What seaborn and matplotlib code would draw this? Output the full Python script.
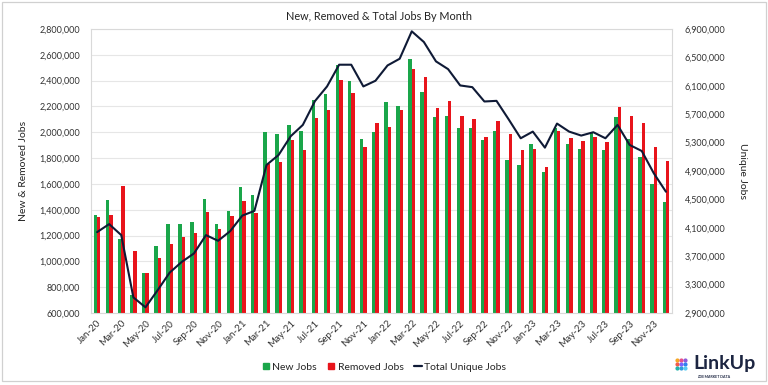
import numpy as np
import pandas as pd
import matplotlib
matplotlib.use("Agg")
import matplotlib.pyplot as plt
from matplotlib.lines import Line2D
from matplotlib.patches import Rectangle
from matplotlib.ticker import FuncFormatter
import seaborn as sns

months = [f"{m}-{y}" for y in ["20", "21", "22", "23"]
          for m in ["Jan", "Feb", "Mar", "Apr", "May", "Jun",
                    "Jul", "Aug", "Sep", "Oct", "Nov", "Dec"]]

new_jobs = [1358, 1474, 1172, 737, 913, 1117, 1288, 1293, 1304, 1480, 1286, 1389,
            1578, 1513, 2005, 1989, 2056, 2010, 2250, 2294, 2522, 2398, 1948, 2005,
            2232, 2204, 2569, 2310, 2121, 2129, 2036, 2036, 1937, 2010, 1785, 1746,
            1906, 1694, 2031, 1906, 1868, 2005, 1860, 2116, 1945, 1808, 1601, 1456]
removed_jobs = [1340, 1358, 1583, 1081, 913, 1024, 1133, 1185, 1218, 1381, 1249, 1355,
                1467, 1371, 1751, 1772, 1940, 1860, 2108, 2173, 2406, 2307, 1883, 2069,
                2041, 2170, 2491, 2432, 2188, 2242, 2129, 2103, 1966, 2088, 1989, 1865,
                1870, 1733, 2010, 1958, 1932, 1963, 1927, 2199, 2126, 2069, 1886, 1777]
total_jobs = [4039, 4152, 3997, 3120, 2980, 3220, 3469, 3620, 3738, 3997, 3917, 4053,
              4272, 4338, 4985, 5126, 5390, 5549, 5884, 6091, 6397, 6397, 6091, 6171,
              6387, 6481, 6867, 6717, 6444, 6335, 6105, 6081, 5879, 5888, 5629, 5361,
              5455, 5229, 5568, 5455, 5399, 5446, 5361, 5549, 5267, 5182, 4867, 4608]

series_names = ["New Jobs", "Removed Jobs"]
line_name = "Total Unique Jobs"
title = "New, Removed & Total Jobs By Month"

GREEN = "#1aa64a"
RED = "#e8141b"
NAVY = "#0f1a36"

sns.set_theme(style="white")
plt.rcParams["font.family"] = ["Lato", "DejaVu Sans"]

df = pd.DataFrame({
    "Month": months * 2,
    "Jobs": [v * 1000 for v in new_jobs] + [v * 1000 for v in removed_jobs],
    "Series": [series_names[0]] * len(months) + [series_names[1]] * len(months),
})

fig = plt.figure(figsize=(7.68, 3.85), dpi=100)
ax = fig.add_axes([91 / 768, 1 - 313 / 385, (672 - 91) / 768, (313 - 29) / 385])

sns.barplot(data=df, x="Month", y="Jobs", hue="Series", order=months,
            hue_order=series_names, palette=[GREEN, RED], width=0.56,
            saturation=1, ax=ax, legend=False, linewidth=0)
ax.set_xlim(-0.5, len(months) - 0.5)
ax.set_ylim(600000, 2800000)
ax.set_yticks(np.arange(600000, 2800001, 200000))
ax.yaxis.set_major_formatter(FuncFormatter(lambda v, p: f"{int(v):,}"))
ax.grid(axis="y", color="#e6e6e6", linewidth=0.8)
ax.set_axisbelow(True)
ax.set_xlabel("")
ax.set_ylabel("New & Removed Jobs", fontsize=7.5, color="#222222", labelpad=8)
ax.set_xticks(range(0, len(months), 2))
ax.set_xticklabels(months[::2], rotation=45, ha="right", rotation_mode="anchor",
                   fontsize=7, color="#333333")
ax.tick_params(axis="y", labelsize=6.5, colors="#333333", length=0, pad=8)
ax.tick_params(axis="x", length=0, pad=4)
for s in ax.spines.values():
    s.set_color("#d9d9d9")
    s.set_linewidth(0.8)

ax2 = ax.twinx()
sns.lineplot(x=np.arange(len(months)), y=[v * 1000 for v in total_jobs], ax=ax2,
             color=NAVY, linewidth=1.5)
ax2.set_ylim(2900000, 6900000)
ax2.set_yticks(np.arange(2900000, 6900001, 400000))
ax2.yaxis.set_major_formatter(FuncFormatter(lambda v, p: f"{int(v):,}"))
ax2.tick_params(axis="y", labelsize=6.5, colors="#333333", length=0, pad=9)
ax2.set_ylabel("Unique Jobs", fontsize=7.5, color="#222222", rotation=270, labelpad=16)
for s in ax2.spines.values():
    s.set_visible(False)
ax2.grid(False)

fig.text(0.493, 1 - 16 / 385, title, ha="center", va="center", fontsize=7.8,
         color="#222222")

handles = [
    Line2D([0], [0], marker="s", linestyle="none", color=GREEN, markersize=5),
    Line2D([0], [0], marker="s", linestyle="none", color=RED, markersize=5),
    Line2D([0], [0], color=NAVY, linewidth=1.6),
]
fig.legend(handles, series_names + [line_name], loc="center",
           bbox_to_anchor=(0.5, 1 - 367 / 385), ncol=3, frameon=False,
           fontsize=7.5, handlelength=0.8, handletextpad=0.2, columnspacing=1.0)

# figure frame
fig.patches.append(Rectangle((2 / 768, 4 / 385), 764 / 768, 379 / 385,
                             transform=fig.transFigure, fill=False,
                             edgecolor="#d0d0d0", linewidth=0.9))

# logo
lax = fig.add_axes([675 / 768, 1 - 370 / 385, 12 / 768, 12 / 385])
lax.set_axis_off()
dot_cols = [["#f5a623", "#e94f8a", "#8e5bd8"],
            ["#f15a4a", "#7b61ff", "#2f80ed"],
            ["#20b2aa", "#2d9cdb", "#56ccf2"]]
for r in range(3):
    for c in range(3):
        lax.scatter(c, 2 - r, s=4, color=dot_cols[r][c])
lax.set_xlim(-0.6, 2.6)
lax.set_ylim(-0.6, 2.6)
fig.text(693 / 768, 1 - 364 / 385, "LinkUp", ha="left", va="center",
         fontsize=14, fontweight="bold", color="#1c2541")
fig.text(697 / 768, 1 - 377 / 385, "JOB MARKET DATA", ha="left", va="center",
         fontsize=2.6, fontweight="bold", color="#1c2541")

fig.savefig("out.png", dpi=100)
